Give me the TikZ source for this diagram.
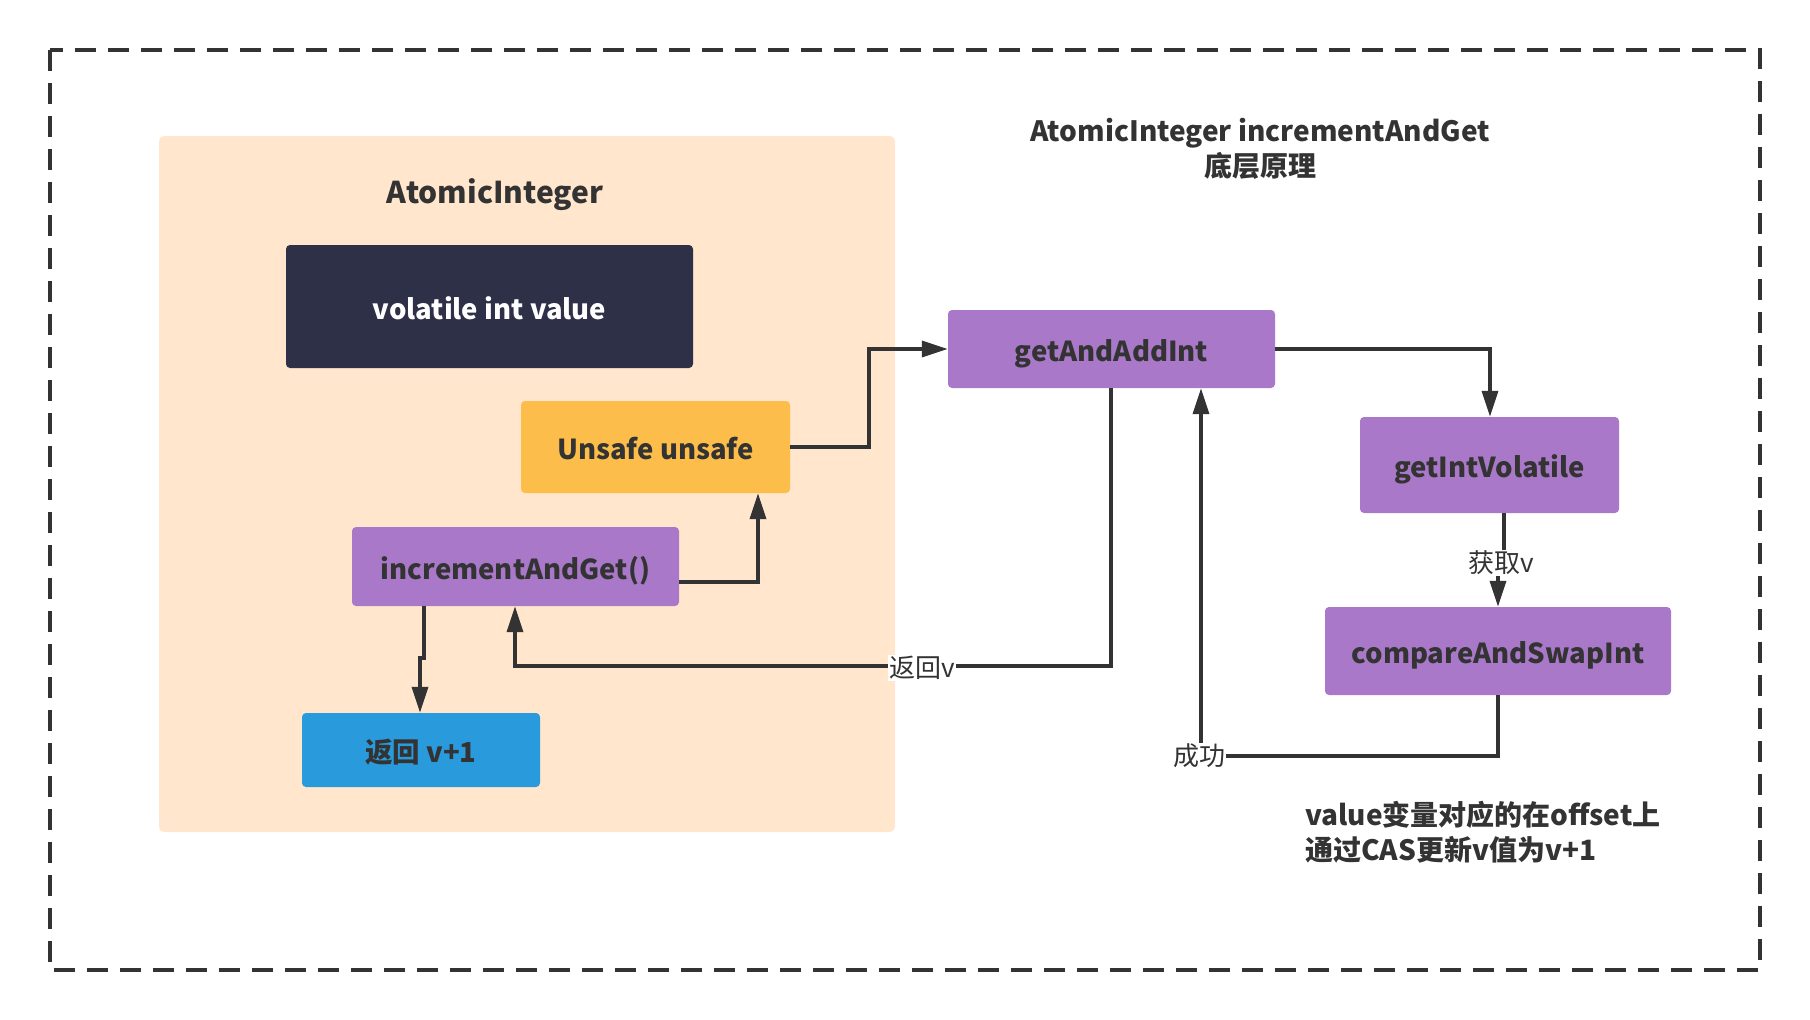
\documentclass[tikz,border=0pt]{standalone}
\usepackage{fontspec}
\setmainfont{Noto Sans CJK SC}
\usetikzlibrary{arrows.meta}
\definecolor{peach}{HTML}{FFE6CC}
\definecolor{darkbox}{HTML}{2D3047}
\definecolor{orangebox}{HTML}{FDBD4A}
\definecolor{purplebox}{HTML}{A978C9}
\definecolor{bluebox}{HTML}{299ADB}
\definecolor{ink}{HTML}{333333}
\tikzset{
  box/.style={rectangle, rounded corners=4pt, inner sep=0pt, text=ink, text height=29pt, text depth=4pt, font=\fontsize{27.5}{32}\selectfont\bfseries},
  conn/.style={draw=ink, line width=3.5pt, -{Triangle[length=26pt,width=16pt]}},
  plain/.style={draw=ink, line width=3.5pt},
  elabel/.style={fill=white, text=ink, inner sep=1pt, font=\fontsize{26}{30}\selectfont},
  ttl/.style={text=ink, font=\fontsize{28}{35}\selectfont\bfseries, inner sep=0pt}
}
\begin{document}
\begin{tikzpicture}[x=1pt,y=-1pt]
\useasboundingbox (0,0) rectangle (1810,1020);
% outer dashed border
\draw[ink, line width=3.5pt, dash pattern=on 21pt off 12pt] (50,50) rectangle (1760,970);
% group container
\node[rectangle, rounded corners=5pt, fill=peach, minimum width=736pt, minimum height=696pt, inner sep=0pt] (grp) at (527,484) {};
\node[ttl, font=\fontsize{30}{35}\selectfont\bfseries] (grpttl) at (495,195) {AtomicInteger};
% title
\node[ttl, align=center] (title) at (1260,149) {AtomicInteger incrementAndGet\\底层原理};
% boxes
\node[box, fill=darkbox, text=white, minimum width=407pt, minimum height=123pt] (vol) at (489.5,306.5) {volatile int value};
\node[box, fill=orangebox, minimum width=269pt, minimum height=92pt] (unsafe) at (655.5,447) {Unsafe unsafe};
\node[box, fill=purplebox, minimum width=327pt, minimum height=79pt] (inc) at (515.5,566.5) {incrementAndGet()};
\node[box, fill=bluebox, minimum width=238pt, minimum height=74pt] (ret) at (421,750) {返回 v+1};
\node[box, fill=purplebox, minimum width=327pt, minimum height=78pt] (gaai) at (1111.5,349) {getAndAddInt};
\node[box, fill=purplebox, minimum width=259pt, minimum height=96pt] (giv) at (1489.5,465) {getIntVolatile};
\node[box, fill=purplebox, minimum width=346pt, minimum height=88pt] (cas) at (1498,651) {compareAndSwapInt};
% bottom note
\node[ttl, align=left, anchor=west] (note) at (1305,832) {value变量对应的在offset上\\通过CAS更新v值为v+1};
% coordinates
\coordinate (c1) at (424,658);
\coordinate (c2) at (420,658);
\coordinate (c3) at (758,582);
\coordinate (c4) at (869,447);
\coordinate (c5) at (869,349);
\coordinate (c6) at (1490,349);
\coordinate (c7) at (1111,666);
\coordinate (c8) at (515,666);
\coordinate (c9) at (1504,563);
\coordinate (c10) at (1498,563);
\coordinate (c11) at (1498,756);
\coordinate (c12) at (1201,756);
% connectors
\draw[conn] (inc.south -| c1) -- (c1) -- (c2) -- (ret.north -| c2);
\draw[conn] (inc.east |- c3) -- (c3) -- (unsafe.south -| c3);
\draw[conn] (unsafe.east) -- (c4) -- (c5) -- (gaai.west |- c5);
\draw[conn] (gaai.east |- c6) -- (c6) -- (giv.north -| c6);
\draw[conn] (gaai.south -| c7) -- (c7) -- (c8) -- (inc.south -| c8);
\node[elabel] (lret) at (922,668) {返回v};
\draw[plain] (giv.south -| c9) -- (c9);
\draw[conn] (c10) -- (cas.north -| c10);
\node[elabel] (lget) at (1501,563) {获取v};
\draw[conn] (cas.south -| c11) -- (c11) -- (c12) -- (gaai.south -| c12);
\node[elabel] (lok) at (1199,756) {成功};
\end{tikzpicture}
\end{document}
